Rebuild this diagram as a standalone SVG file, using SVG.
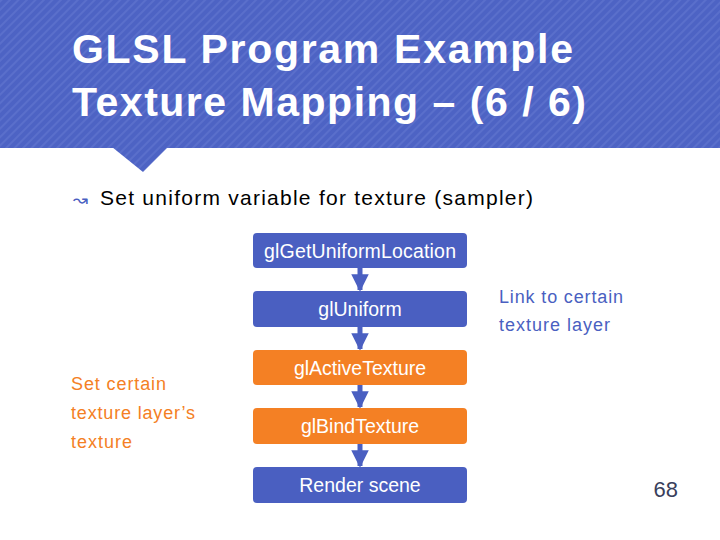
<svg xmlns="http://www.w3.org/2000/svg" width="720" height="540" viewBox="0 0 720 540">
<defs>
<pattern id="st" width="6" height="6" patternUnits="userSpaceOnUse" patternTransform="rotate(45)">
<rect width="6" height="6" fill="#4d63c4"/><rect width="2" height="6" fill="#5a6fcb"/>
</pattern>
<marker id="ar" viewBox="0 0 10 10" refX="9" refY="5" markerWidth="3.5" markerHeight="3.5" orient="auto"><path d="M0,0 L10,5 L0,10 z" fill="#4a5fc1"/></marker>
</defs>
<style>
.b{fill:#4a5fc1}.o{fill:#f48024}
.t{font-family:"Liberation Sans",Arial,sans-serif;font-size:19.5px;fill:#fff;text-anchor:middle}
.s{font-family:"Liberation Sans",Arial,sans-serif;font-size:18px;fill:#4a5fc1}
.so{fill:#f48024}
</style>
<rect width="720" height="148" fill="url(#st)"/>
<polygon points="112,147 168,147 143,172" fill="url(#st)"/>
<text x="72" y="63" font-family="Liberation Sans,Arial,sans-serif" font-weight="bold" font-size="41" fill="#fff" textLength="501">GLSL Program Example</text>
<text x="72" y="116" font-family="Liberation Sans,Arial,sans-serif" font-weight="bold" font-size="41" fill="#fff" textLength="514">Texture Mapping – (6 / 6)</text>
<text x="73" y="206" font-family="DejaVu Sans,sans-serif" font-size="18" fill="#4a5fc1">↝</text>
<text x="100" y="205" font-family="Liberation Sans,Arial,sans-serif" font-size="21" fill="#000" textLength="433">Set uniform variable for texture (sampler)</text>
<g id="connectors" stroke="#4a5fc1" stroke-width="5" marker-end="url(#ar)">
<line x1="360" y1="268" x2="360" y2="290"/>
<line x1="360" y1="327" x2="360" y2="349"/>
<line x1="360" y1="385" x2="360" y2="407"/>
<line x1="360" y1="444" x2="360" y2="466"/>
</g>
<g id="n1"><rect class="b" x="253" y="233" width="214" height="35" rx="4"/><text class="t" x="360" y="258" textLength="192">glGetUniformLocation</text></g>
<g id="n2"><rect class="b" x="253" y="291" width="214" height="36" rx="4"/><text class="t" x="360" y="316">glUniform</text></g>
<g id="n3"><rect class="o" x="253" y="350" width="214" height="35" rx="4"/><text class="t" x="360" y="375">glActiveTexture</text></g>
<g id="n4"><rect class="o" x="253" y="408" width="214" height="36" rx="4"/><text class="t" x="360" y="433">glBindTexture</text></g>
<g id="n5"><rect class="b" x="253" y="467" width="214" height="36" rx="4"/><text class="t" x="360" y="492">Render scene</text></g>
<text class="s" x="499" y="303" textLength="124">Link to certain</text>
<text class="s" x="499" y="331" textLength="111">texture layer</text>
<text class="s so" x="71" y="390" textLength="95">Set certain</text>
<text class="s so" x="71" y="419" textLength="124">texture layer’s</text>
<text class="s so" x="71" y="448" textLength="61">texture</text>
<text x="678" y="497" text-anchor="end" font-family="Liberation Sans,Arial,sans-serif" font-size="22" fill="#3a3f5c">68</text>
</svg>
